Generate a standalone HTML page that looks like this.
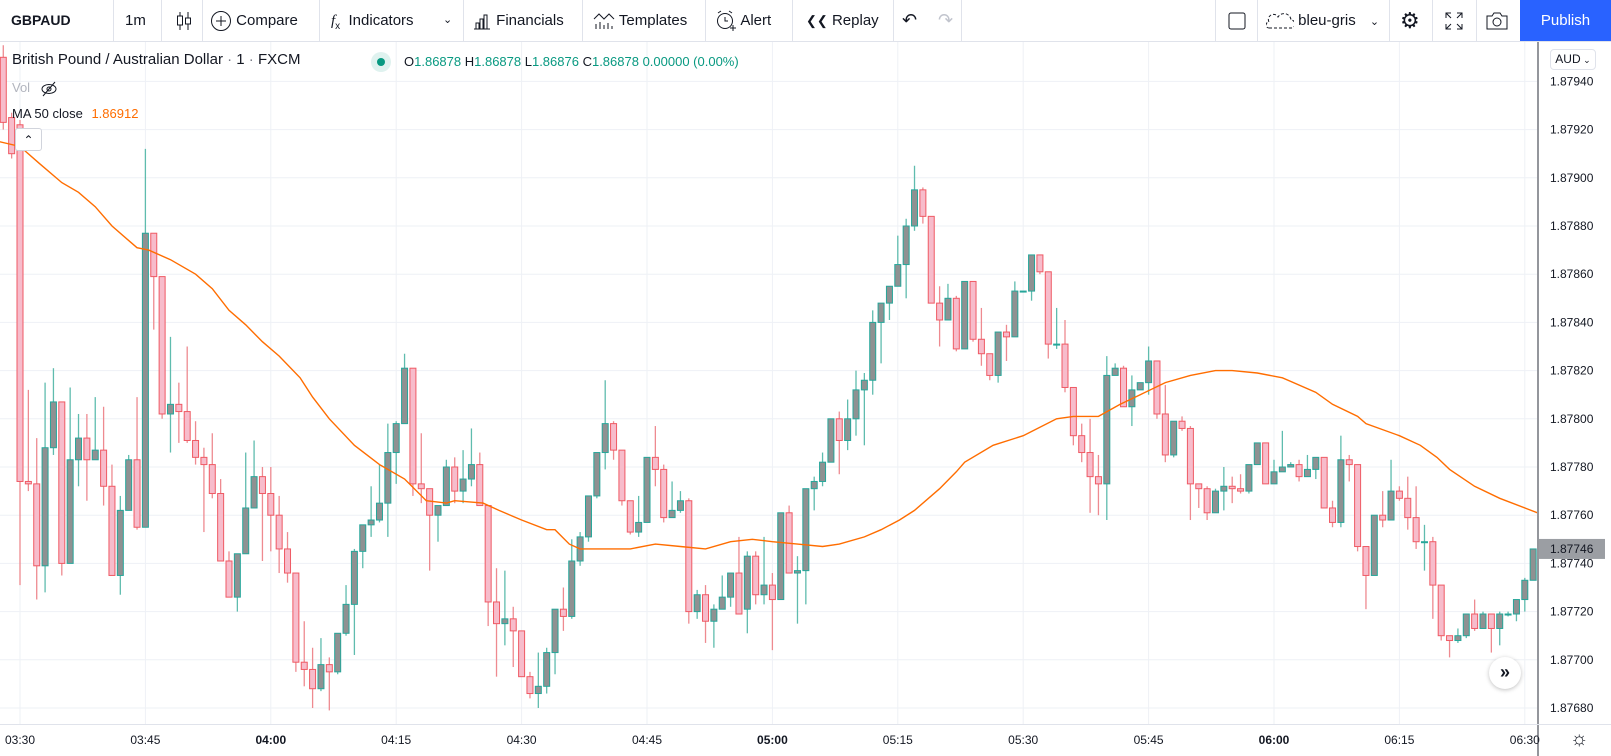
<!DOCTYPE html>
<html><head><meta charset="utf-8">
<style>
*{margin:0;padding:0;box-sizing:border-box}
body{width:1611px;height:756px;overflow:hidden;background:#fff;font-family:"Liberation Sans",sans-serif;color:#131722;position:relative}
.tb{position:absolute;left:0;top:0;width:1611px;height:42px;border-bottom:1px solid #e0e3eb;background:#fff}
.ti{position:absolute;top:0;height:41px;line-height:41px;font-size:15px;color:#131722;white-space:nowrap}
.sep{position:absolute;top:0;width:1px;height:41px;background:#e0e3eb}
.pub{position:absolute;left:1520px;top:0;width:91px;height:41px;background:#2962ff;color:#fff;font-size:15px;line-height:41px;text-align:center}
.leg{position:absolute;white-space:nowrap}
</style></head><body>
<div class="tb">
  <div class="ti" style="left:11px;font-weight:bold;font-size:14px">GBPAUD</div>
  <div class="sep" style="left:113px"></div>
  <div class="ti" style="left:125px">1m</div>
  <div class="sep" style="left:161px"></div>
  <div class="ti" style="left:176px"><svg width="16" height="22" style="vertical-align:middle"><path d="M4 2v18M12 2v18" stroke="#131722"/><rect x="1.5" y="6" width="5" height="9" fill="#fff" stroke="#131722"/><rect x="9.5" y="8" width="5" height="6" fill="#fff" stroke="#131722"/></svg></div>
  <div class="sep" style="left:202px"></div>
  <div class="ti" style="left:210px"><svg width="22" height="22" style="vertical-align:middle"><circle cx="11" cy="11" r="9.5" fill="none" stroke="#131722"/><path d="M11 6v10M6 11h10" stroke="#131722"/></svg> Compare</div>
  <div class="sep" style="left:319px"></div>
  <div class="ti" style="left:331px"><i style="font-family:'Liberation Serif',serif">f</i><sub style="font-size:10px">x</sub>&nbsp; Indicators</div>
  <div class="ti" style="left:443px;font-size:11px">&#8964;</div>
  <div class="sep" style="left:463px"></div>
  <div class="ti" style="left:472px"><svg width="20" height="20" style="vertical-align:middle"><path d="M2 18h16M4 18v-6h3v6M8 18v-10h3v10M12 18v-14h3v14" stroke="#131722" fill="none"/></svg> Financials</div>
  <div class="sep" style="left:582px"></div>
  <div class="ti" style="left:593px"><svg width="22" height="20" style="vertical-align:middle"><path d="M1 8l5-5 5 5 5-5 5 5M3 18v-5M7 18v-7M11 18v-4M15 18v-6M19 18v-3" stroke="#131722" fill="none"/></svg> Templates</div>
  <div class="sep" style="left:705px"></div>
  <div class="ti" style="left:715px"><svg width="22" height="22" style="vertical-align:middle"><circle cx="10" cy="11" r="7.5" fill="none" stroke="#131722"/><path d="M10 7v4h3M3 3l3-2M17 3l-3-2M15 18h6M18 15v6" stroke="#131722" fill="none"/></svg> Alert</div>
  <div class="sep" style="left:792px"></div>
  <div class="ti" style="left:806px"><span style="font-size:13px">&#10094;&#10094;</span> Replay</div>
  <div class="sep" style="left:893px"></div>
  <div class="ti" style="left:902px;font-size:18px">&#8630;</div>
  <div class="ti" style="left:938px;font-size:18px;color:#c1c4cd">&#8631;</div>
  <div class="sep" style="left:961px"></div>
  <div class="sep" style="left:1215px"></div>
  <div class="ti" style="left:1228px"><svg width="18" height="20" style="vertical-align:middle"><rect x="1" y="2" width="16" height="16" rx="2" fill="none" stroke="#131722"/></svg></div>
  <div class="sep" style="left:1257px"></div>
  <div class="ti" style="left:1266px"><svg width="28" height="20" style="vertical-align:middle"><path d="M3 17h22a4 4 0 0 0 0-8 7 7 0 0 0-13-3 5 5 0 0 0-9 5 3 3 0 0 0 0 6" fill="none" stroke="#131722" stroke-dasharray="3 2"/></svg> bleu-gris <span style="font-size:11px;margin-left:10px">&#8964;</span></div>
  <div class="sep" style="left:1389px"></div>
  <div class="ti" style="left:1400px;font-size:22px">&#9881;</div>
  <div class="sep" style="left:1432px"></div>
  <div class="ti" style="left:1444px"><svg width="20" height="20" style="vertical-align:middle"><path d="M2 7V2h5M2 2l5 5M18 7V2h-5M18 2l-5 5M2 13v5h5M2 18l5-5M18 13v5h-5M18 18l-5-5" stroke="#131722" fill="none"/></svg></div>
  <div class="sep" style="left:1476px"></div>
  <div class="ti" style="left:1486px"><svg width="22" height="20" style="vertical-align:middle"><path d="M1 5h5l2-3h6l2 3h5v13H1z" fill="none" stroke="#131722"/><circle cx="11" cy="11" r="4" fill="none" stroke="#131722"/></svg></div>
  <div class="pub">Publish</div>
</div>

<svg id="chart" width="1611" height="714" style="position:absolute;left:0;top:42px">
  <defs></defs>
  <g transform="translate(0,-42)">
    <g id="grid"></g>
    <g id="cndl"></g>
    <g id="ma"></g>
    <g id="axes"></g>
  </g>
</svg>

<div class="leg" style="left:12px;top:51px;font-size:15px">British Pound / Australian Dollar <span style="color:#787b86">·</span> 1 <span style="color:#787b86">·</span> FXCM</div>
<div class="leg" style="left:371px;top:52px;width:20px;height:20px;border-radius:10px;background:#dff2ef"><div style="position:absolute;left:6px;top:6px;width:8px;height:8px;border-radius:4px;background:#089981"></div></div>
<div class="leg" style="left:404px;top:54px;font-size:13px;color:#089981"><span style="color:#131722">O</span>1.86878 <span style="color:#131722">H</span>1.86878 <span style="color:#131722">L</span>1.86876 <span style="color:#131722">C</span>1.86878 0.00000 (0.00%)</div>
<div class="leg" style="left:12px;top:80px;font-size:13px;color:#b2b5be">Vol <svg width="18" height="16" style="vertical-align:middle;margin-left:6px"><ellipse cx="9" cy="8" rx="7" ry="4.5" fill="none" stroke="#131722"/><circle cx="9" cy="8" r="2" fill="none" stroke="#131722"/><path d="M3 15L15 1" stroke="#131722"/></svg></div>
<div class="leg" style="left:12px;top:106px;font-size:13px">MA 50 close <span style="color:#ff6d00;margin-left:5px">1.86912</span></div>
<div class="leg" style="left:15px;top:128px;width:27px;height:23px;border:1px solid #d1d4dc;border-radius:3px;background:#fff;text-align:center;font-size:12px;line-height:22px">&#8963;</div>
<div class="leg" style="left:1550px;top:49px;width:46px;height:21px;border:1px solid #e0e3eb;border-radius:4px;font-size:12px;line-height:19px;text-align:center;color:#131722">AUD<span style="font-size:9px"> &#8964;</span></div>
<div class="leg" style="left:1489px;top:657px;width:32px;height:32px;border-radius:16px;background:#fff;box-shadow:0 1px 4px rgba(0,0,0,.25);text-align:center;line-height:30px;font-size:18px;font-weight:bold;color:#131722">&#187;</div>
<div class="leg" style="left:1570px;top:728px;font-size:20px;color:#131722">&#9788;</div>

<script>
// prices in units of 0.00001 above 1.87000 (e.g. 746 = 1.87746); first candle at minute -2 from 03:30
const firstMinute = -2;
const opens = [950,925,922,774,773,739,788,807,740,783,792,783,787,772,735,762,783,755,877,859,802,806,803,791,784,781,769,741,726,744,763,776,769,760,746,736,699,696,688,698,695,711,723,745,756,758,765,786,798,821,773,771,760,764,780,770,775,781,764,724,715,717,712,693,686,689,703,721,718,741,751,768,786,798,787,766,753,757,784,779,759,762,766,720,727,716,721,726,736,721,743,727,731,725,761,736,737,771,774,782,800,791,800,812,816,840,848,855,864,880,895,884,848,841,850,829,857,833,827,818,836,834,853,853,868,861,831,831,813,793,786,776,773,818,821,805,812,815,824,802,785,799,796,773,771,761,770,772,771,770,781,790,773,778,780,781,776,779,784,763,757,783,781,747,735,760,758,770,767,759,749,749,731,710,708,710,719,713,719,713,719,719,725,733];
const highs = [955,927,924,812,792,815,821,807,813,802,802,809,805,781,768,785,809,912,877,859,834,815,830,799,788,794,775,745,744,786,791,780,780,768,753,736,716,705,709,701,711,731,746,756,772,781,798,799,827,821,794,771,764,783,784,787,796,786,764,738,737,722,712,695,703,705,721,730,750,753,768,786,816,799,787,766,768,784,797,781,774,770,767,729,731,723,735,736,751,745,745,751,736,761,764,743,771,776,786,800,803,808,820,819,845,848,855,876,883,905,896,884,855,856,851,857,857,846,827,836,839,857,853,868,868,861,846,841,813,798,800,785,826,823,822,818,815,830,824,814,799,801,797,773,772,771,780,776,777,781,790,790,783,795,782,783,785,784,784,766,793,785,781,747,760,770,783,772,776,772,756,751,731,710,713,719,725,720,719,720,720,725,734,746];
const lows = [920,908,731,770,725,728,785,735,740,772,766,783,764,735,727,762,754,755,837,800,786,790,790,781,753,767,741,726,720,744,763,741,745,736,732,695,689,680,687,679,694,710,702,738,751,757,751,773,798,768,765,737,749,764,765,765,772,764,714,693,706,697,693,684,680,686,694,712,717,739,749,767,779,783,764,752,751,757,772,757,759,761,715,717,707,705,721,722,719,711,723,723,704,725,736,715,723,762,772,782,777,787,793,789,810,823,841,855,850,878,881,848,830,841,828,829,832,822,816,815,824,834,853,849,860,825,829,811,789,782,761,760,758,818,805,797,812,810,800,782,784,795,758,763,758,761,762,765,769,769,781,773,773,778,780,774,776,775,763,755,755,774,745,721,735,755,758,766,754,746,737,717,708,701,707,709,712,713,703,706,718,716,720,733];
const closes = [923,910,774,773,739,788,807,740,783,792,783,787,772,735,762,783,755,877,859,802,806,803,791,784,781,769,741,726,744,763,776,769,760,746,736,699,696,688,698,695,711,723,745,756,758,765,786,798,821,773,771,760,764,780,770,775,781,764,724,715,717,712,693,686,689,703,721,718,741,751,768,786,798,787,766,753,757,784,779,759,762,766,720,727,716,721,726,736,719,743,727,731,725,761,736,737,771,774,782,800,791,800,812,816,840,848,855,864,880,895,884,848,841,850,829,857,833,827,818,836,834,853,853,868,861,831,831,813,793,786,776,773,818,821,805,812,815,824,802,785,799,796,773,771,761,770,772,771,770,781,790,773,778,780,781,776,779,784,763,757,783,781,747,735,760,758,770,767,759,749,749,731,710,708,710,719,713,719,713,719,719,725,733,746];
// MA(50): minute positions and values
const maMinutes = [-2.5,0,2.3,5,7,9,11,14,15.4,18,21,23,25,27,29,31,33.5,35,37,40,43,46,48.6,51,52,55.4,57.3,60,63,64,65.7,67,69.3,73,76,79,82,85,87.6,90,93,96,98,101,103,105.2,107,110,112,113,116.4,120,124,126,129,131.6,134,137,140,143,145,148,151,155,157,160,161,165,167.5,169.5,171,174,177,181.5];
const maValues = [915,913,906,898,894,888,880,871,870,866,860,854,845,839,832,826,817,809,800,789,781,775,766,765,766,765,762,758,754,754,748,746,746,746,748,747,746,749,750,749,748,747,748,751,754,758,762,771,778,782,789,793,800,801,801,806,810,815,818,820,820,819,817,811,806,801,798,793,789,784,779,772,767,761];
const priceTicks = [680,700,720,740,760,780,800,820,840,860,880,900,920,940];
const timeTicks = ["03:30","03:45","04:00","04:15","04:30","04:45","05:00","05:15","05:30","05:45","06:00","06:15","06:30"];
const boldTicks = ["04:00","05:00","06:00"];
const lastPrice = 746;

const NS="http://www.w3.org/2000/svg";
const xOf = m => 20 + 8.36*m;
const yOf = u => 708 - (u-680)*2.41;
function mk(tag, attrs, parent){const e=document.createElementNS(NS,tag);for(const k in attrs)e.setAttribute(k,attrs[k]);parent.appendChild(e);return e;}
const grid=document.getElementById('grid'), cg=document.getElementById('cndl'), mg=document.getElementById('ma'), ax=document.getElementById('axes');
const svg=document.getElementById('chart');
const cp=mk('clipPath',{id:'pc2'},svg.querySelector('defs'));
mk('rect',{x:0,y:42,width:1537,height:682},cp);
cg.setAttribute('clip-path','url(#pc2)'); mg.setAttribute('clip-path','url(#pc2)');
priceTicks.forEach(u=>{
  const l=mk('line',{x1:0,x2:1537,y1:yOf(u),y2:yOf(u),stroke:'#eef1f6','stroke-width':1},grid);
  
  
  const t=mk('text',{x:1550,y:yOf(u)+4,'font-size':12,fill:'#131722','font-family':'Liberation Sans, sans-serif'},ax);
  t.textContent='1.87'+String(u).padStart(3,'0');
  
  
});
timeTicks.forEach((s,i)=>{
  const x=xOf(i*15);
  const l=mk('line',{x1:x,x2:x,y1:42,y2:724,stroke:'#eef1f6','stroke-width':1},grid);
  
  
  const t=mk('text',{x:x,y:744,'text-anchor':'middle','font-size':12,fill:'#131722','font-weight':boldTicks.includes(s)?'bold':'normal','font-family':'Liberation Sans, sans-serif'},ax);
  t.textContent=s;
  
  
});
opens.forEach((o,i)=>{
  const m=firstMinute+i, x=xOf(m), c=closes[i], up=c>=o;
  const g=mk('g',{},cg);
  
  
  mk('line',{x1:x,x2:x,y1:yOf(highs[i]),y2:yOf(lows[i]),stroke:up?'#5fbcae':'#ee8a90','stroke-width':1.3},g);
  const top=yOf(Math.max(o,c)), bot=yOf(Math.min(o,c));
  mk('rect',{x:x-3,y:top,width:6,height:Math.max(1,bot-top),fill:up?'#8f9192':'#f7bccb',stroke:up?'#26a69a':'#ef5a64','stroke-width':1},g);
});
const pts=maMinutes.map((m,i)=>xOf(m).toFixed(1)+','+yOf(maValues[i]).toFixed(1)).join(' ');
const pl=mk('polyline',{points:pts,fill:'none',stroke:'#ff6d00','stroke-width':1.4},mg);


mk('line',{x1:1538,x2:1538,y1:42,y2:756,stroke:'#2a2e39','stroke-width':1},ax);
mk('line',{x1:0,x2:1611,y1:724.5,y2:724.5,stroke:'#e0e3eb','stroke-width':1},ax);
const by=yOf(lastPrice);
const badge=mk('g',{},ax);


mk('rect',{x:1539,y:by-10,width:66,height:20,fill:'#9b9ea3'},badge);
const bt=mk('text',{x:1550,y:by+4,'font-size':12,fill:'#131722','font-family':'Liberation Sans, sans-serif'},badge);
bt.textContent='1.87'+lastPrice;
</script>
</body></html>
